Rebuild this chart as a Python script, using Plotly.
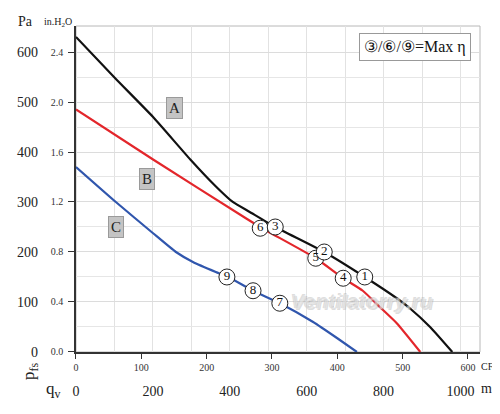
import plotly.graph_objects as go

# fan curves: airflow in CFM, static pressure in in.H2O
a_cfm = [0, 60, 118, 175, 213, 240, 266, 305, 380, 442, 491, 511, 542, 576]
a_inh2o = [2.52, 2.19, 1.88, 1.54, 1.33, 1.20, 1.12, 1.00, 0.80, 0.60, 0.43, 0.35, 0.20, 0.0]

b_cfm = [0, 118, 260, 285, 367, 409, 439, 465, 491, 527]
b_inh2o = [1.94, 1.54, 1.07, 0.99, 0.75, 0.59, 0.49, 0.36, 0.23, 0.0]

c_cfm = [0, 61, 118, 153, 179, 214, 233, 271, 312, 363, 400, 430]
c_inh2o = [1.48, 1.20, 0.95, 0.80, 0.72, 0.64, 0.60, 0.49, 0.39, 0.24, 0.11, 0.0]

# numbered operating points (drawn 9 -> 1 so low numbers sit on top)
pt_labels = ["9", "8", "7", "6", "5", "4", "3", "2", "1"]
pt_cfm = [231, 271, 312, 282, 367, 409, 305, 380, 442]
pt_inh2o = [0.60, 0.49, 0.39, 0.99, 0.75, 0.59, 1.00, 0.80, 0.60]

curve_names = ["A", "B", "C"]
curve_label_cfm = [151, 109, 61]
curve_label_inh2o = [1.95, 1.38, 1.00]

pa_ticks = [0, 100, 200, 300, 400, 500, 600]
m3h_ticks = [0, 200, 400, 600, 800, 1000]

CFM_TO_M3H = 1.69901
serif = "Liberation Serif"

fig = go.Figure()

fig.add_annotation(x=438, y=0.40, text="Ventilatorry.ru", showarrow=False,
                   font=dict(family="Liberation Sans", size=21, color="rgba(235,235,235,0.55)",
                             style="italic", weight="bold",
                             shadow="1px 1px 0 rgba(150,150,150,0.6), -1px -1px 0 rgba(150,150,150,0.6)"))

for xs, ys, col in [(a_cfm, a_inh2o, "#111111"), (b_cfm, b_inh2o, "#e3262b"), (c_cfm, c_inh2o, "#3056ad")]:
    fig.add_trace(go.Scatter(x=xs, y=ys, mode="lines",
                             line=dict(color=col, width=2.2, shape="spline", smoothing=0.5),
                             hoverinfo="skip"))

fig.add_trace(go.Scatter(x=pt_cfm, y=pt_inh2o, mode="markers+text", text=pt_labels,
                         textposition="middle center",
                         textfont=dict(family=serif, size=13, color="#111"),
                         marker=dict(size=16, color="white", line=dict(color="#222", width=1)),
                         hoverinfo="skip"))

# invisible trace so the secondary (Pa / m3/h) axes get drawn
fig.add_trace(go.Scatter(x=[0], y=[0], xaxis="x2", yaxis="y2", mode="markers",
                         marker=dict(opacity=0), hoverinfo="skip"))

for name, xv, yv in zip(curve_names, curve_label_cfm, curve_label_inh2o):
    fig.add_annotation(x=xv, y=yv, text=name, showarrow=False,
                       font=dict(family=serif, size=15, color="#222"),
                       bgcolor="#c4c4c4", bordercolor="#9a9a9a", borderwidth=1, borderpad=2)

fig.add_annotation(xref="paper", yref="paper", x=0.862, y=0.944, text="③/⑥/⑨=Max η",
                   xanchor="center", yanchor="middle",
                   showarrow=False, font=dict(family=serif, size=16, color="#111"),
                   bgcolor="white", bordercolor="#999", borderwidth=1, borderpad=4)

axis_text = [
    ("Pa", 0.032, 1.013, 14, 0),
    ("in.H<sub>2</sub>O", 0.102, 1.008, 10, 0),
    ("p<sub>fs</sub>", 0.043, 0.085, 17, -90),
    ("q<sub>v</sub>", 0.092, 0.037, 17, 0),
]
for txt, xp, yp, sz, ang in axis_text:
    fig.add_annotation(xref="paper", yref="paper", x=xp, y=yp, text=txt, showarrow=False,
                       xanchor="center", yanchor="middle",
                       textangle=ang, font=dict(family=serif, size=sz, color="#222"))

fig.add_annotation(xref="paper", yref="paper", x=0.998, y=0.098, xanchor="left", yanchor="middle",
                   text="CFM", showarrow=False, font=dict(family=serif, size=10, color="#222"))
fig.add_annotation(xref="paper", yref="paper", x=0.998, y=0.040, xanchor="left", yanchor="middle",
                   text="m³/h", showarrow=False, font=dict(family=serif, size=14, color="#222"))

# light frame around plot area
fig.add_shape(type="rect", xref="paper", yref="paper", x0=0.1404, x1=1, y0=0.1376, y1=1,
              line=dict(color="#b8b8b8", width=1), layer="below")

x_max = 618.4
# page body adds an 8px offset, so the figure is 8px smaller than the window
fig.update_layout(
    width=492, height=406,
    margin=dict(l=2, r=20, t=18, b=10, autoexpand=False),
    paper_bgcolor="white", plot_bgcolor="white",
    showlegend=False,
    font=dict(family=serif, color="#222"),
    xaxis=dict(domain=[0.1404, 1], range=[0, x_max], dtick=100, tick0=0,
               ticks="outside", ticklen=5, tickcolor="#333", tickwidth=1.2,
               showline=True, linecolor="#333", linewidth=1.5,
               showgrid=False, zeroline=False, automargin=False,
               tickfont=dict(family=serif, size=10, color="#333"),
               minor=dict(tick0=0, dtick=100 / CFM_TO_M3H, showgrid=True,
                          gridcolor="#e2e2e2", gridwidth=1, ticks="")),
    yaxis=dict(domain=[0.1376, 1], range=[0, 2.608], dtick=0.4, tick0=0, tickformat=".1f",
               ticks="outside", ticklen=6, tickcolor="#333", tickwidth=1.2,
               showline=True, linecolor="#333", linewidth=1.5,
               showgrid=True, gridcolor="#dcdcdc", zeroline=False, automargin=False,
               ticklabelstandoff=3,
               tickfont=dict(family=serif, size=10, color="#333"),
               minor=dict(dtick=0.2, showgrid=True, gridcolor="#e6e6e6", ticks="")),
    yaxis2=dict(overlaying="y", anchor="free", position=0.0596, side="left",
                range=[0, 652], tickvals=pa_ticks, ticks="", showline=False,
                showgrid=False, zeroline=False, automargin=False,
                tickfont=dict(family=serif, size=14, color="#222")),
    xaxis2=dict(overlaying="x", anchor="free", position=0.06, side="bottom",
                range=[0, x_max * CFM_TO_M3H], tickvals=m3h_ticks, ticks="",
                showline=False, showgrid=False, zeroline=False, automargin=False,
                tickfont=dict(family=serif, size=14, color="#222")),
)

fig.write_html("out.html")
